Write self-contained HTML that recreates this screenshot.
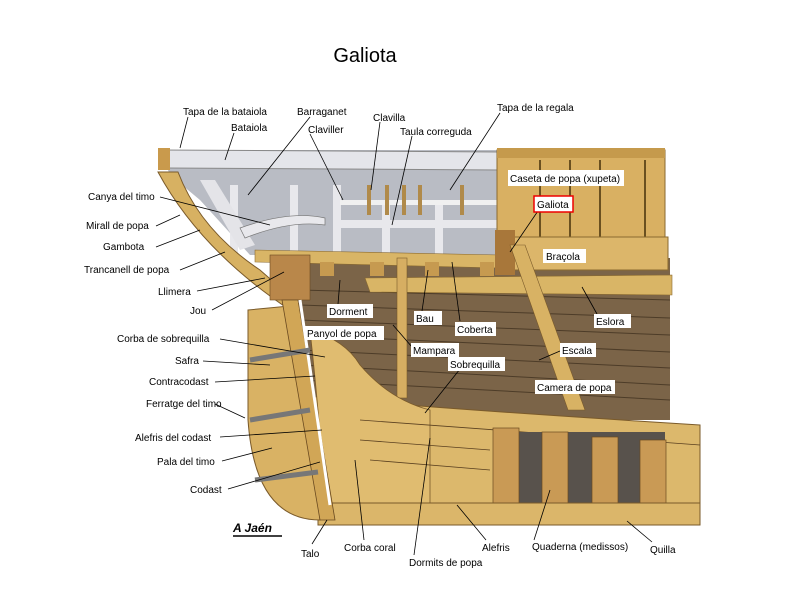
<!DOCTYPE html>
<html><head><meta charset="utf-8"><style>
html,body{margin:0;padding:0;background:#fff;width:800px;height:600px;overflow:hidden}
svg text{font-family:"Liberation Sans",Arial,sans-serif;font-size:10px;fill:#000}
</style></head><body>
<svg width="800" height="600" viewBox="0 0 800 600" xmlns="http://www.w3.org/2000/svg">
<rect width="800" height="600" fill="#fff"/>
<text x="365" y="62" text-anchor="middle" style="font-size:20px">Galiota</text>

<!-- grey bulwark -->
<polygon points="160,150 500,150 500,255 250,255 200,200 170,175" fill="#b9bcc4"/>
<polygon points="160,150 500,152 500,170 165,168" fill="#e4e5ea"/>
<line x1="160" y1="150" x2="500" y2="152" stroke="#888" stroke-width="1"/>
<line x1="165" y1="168" x2="500" y2="170" stroke="#888" stroke-width="1"/>
<rect x="230" y="185" width="8" height="70" fill="#e8e8ec"/>
<rect x="290" y="185" width="8" height="70" fill="#e8e8ec"/>
<rect x="333" y="185" width="8" height="70" fill="#e8e8ec"/>
<rect x="382" y="200" width="8" height="55" fill="#e8e8ec"/>
<rect x="435" y="200" width="8" height="55" fill="#e8e8ec"/>
<rect x="340" y="200" width="158" height="5" fill="#f0f0f0"/>
<rect x="340" y="220" width="158" height="8" fill="#e8e8ec"/>
<polygon points="200,180 215,180 255,245 240,250" fill="#e4e4e8"/>
<!-- pins -->
<g fill="#b08a4a"><rect x="367" y="185" width="4" height="30"/><rect x="385" y="185" width="4" height="30"/><rect x="402" y="185" width="4" height="30"/><rect x="418" y="185" width="4" height="30"/><rect x="460" y="185" width="4" height="30"/></g>
<!-- tiller -->
<path d="M240,228 Q290,210 325,218 L325,225 Q290,220 245,238 Z" fill="#e8e8ec" stroke="#777" stroke-width=".7"/>

<!-- stern curve wood -->
<path d="M158,172 L178,172 Q200,230 260,270 L300,305 L290,310 Q200,250 158,172 Z" fill="#d7b162" stroke="#7a5a2a" stroke-width="1"/>
<rect x="158" y="148" width="12" height="22" fill="#c99a4c"/>
<!-- hull interior brown -->
<polygon points="300,258 670,258 670,420 300,420" fill="#7b6448"/>
<g stroke="#4d3c28" stroke-width="1">
<line x1="300" y1="290" x2="670" y2="300"/><line x1="300" y1="305" x2="670" y2="318"/>
<line x1="300" y1="320" x2="670" y2="335"/><line x1="300" y1="335" x2="670" y2="352"/>
<line x1="300" y1="350" x2="670" y2="368"/><line x1="300" y1="365" x2="670" y2="385"/>
<line x1="300" y1="380" x2="670" y2="400"/>
</g>
<!-- deck beam -->
<polygon points="255,250 500,255 500,268 255,262" fill="#d9b566" stroke="#8a6a30" stroke-width=".6"/>
<polygon points="365,278 672,275 672,295 370,292" fill="#d9b566" stroke="#8a6a30" stroke-width=".6"/>
<rect x="397" y="258" width="10" height="140" fill="#d6ae62" stroke="#7a5a2a" stroke-width=".6"/>
<g fill="#c69a50"><rect x="320" y="262" width="14" height="14"/><rect x="370" y="262" width="14" height="14"/><rect x="425" y="262" width="14" height="14"/><rect x="480" y="262" width="14" height="14"/></g>
<rect x="270" y="255" width="40" height="45" fill="#b9874a" stroke="#6a4a20" stroke-width=".6"/>
<!-- caseta -->
<rect x="497" y="150" width="168" height="90" fill="#d9b062" stroke="#8a6a30"/>
<g stroke="#6a5020" stroke-width="2"><line x1="540" y1="160" x2="540" y2="240"/><line x1="570" y1="160" x2="570" y2="240"/><line x1="600" y1="160" x2="600" y2="240"/><line x1="645" y1="160" x2="645" y2="240"/></g>
<rect x="497" y="148" width="168" height="10" fill="#c59a4c"/>
<rect x="505" y="237" width="163" height="33" fill="#dcb66a" stroke="#8a6a30"/>
<rect x="495" y="230" width="20" height="45" fill="#a8773a"/>
<!-- escala -->
<polygon points="510,245 525,245 585,410 568,410" fill="#d8b264" stroke="#7a5a2a" stroke-width=".6"/>
<!-- lower hull -->
<path d="M300,395 Q380,405 700,425 L700,505 L320,510 Q330,470 300,395 Z" fill="#dcb86c" stroke="#7a5a2a"/>
<path d="M310,330 Q345,340 360,365 Q390,400 430,410 L430,505 L325,505 Q320,420 310,330Z" fill="#e0bc70" stroke="#7a5a2a" stroke-width=".8"/>
<g stroke="#5a4020" stroke-width=".8" fill="none">
<path d="M360,420 L700,445"/><path d="M360,440 L490,450"/><path d="M370,460 L490,470"/>
</g>
<rect x="493" y="432" width="172" height="73" fill="#58524c"/>
<g fill="#c99a55" stroke="#6a4a20" stroke-width=".7">
<rect x="493" y="428" width="26" height="78"/><rect x="542" y="432" width="26" height="74"/><rect x="592" y="437" width="26" height="69"/><rect x="640" y="440" width="26" height="66"/>
</g>
<rect x="318" y="503" width="382" height="22" fill="#dbb66a" stroke="#7a5a2a"/>
<!-- rudder and sternpost -->
<path d="M248,310 L300,305 L320,520 Q255,520 248,420 Z" fill="#d9b264" stroke="#7a5a2a"/>
<polygon points="282,300 298,300 335,520 320,520" fill="#d1a656" stroke="#6a4a20" stroke-width=".8"/>
<line x1="300" y1="300" x2="330" y2="505" stroke="#fff" stroke-width="3"/>
<g stroke="#777" stroke-width="5"><line x1="250" y1="360" x2="310" y2="350"/><line x1="250" y1="420" x2="310" y2="410"/><line x1="255" y1="480" x2="318" y2="472"/></g>
<text x="233" y="532" style="font-size:12px;font-weight:bold;font-style:italic">A Jaén</text>
<line x1="233" y1="536" x2="282" y2="536" stroke="#000" stroke-width="1.5"/>

<!-- leader lines -->
<g stroke="#000" stroke-width=".8">
<line x1="188" y1="117" x2="180" y2="148"/><line x1="234" y1="133" x2="225" y2="160"/>
<line x1="310" y1="117" x2="248" y2="195"/><line x1="310" y1="134" x2="343" y2="200"/>
<line x1="380" y1="122" x2="371" y2="190"/><line x1="412" y1="136" x2="392" y2="225"/>
<line x1="500" y1="113" x2="450" y2="190"/>
<line x1="160" y1="197" x2="270" y2="225"/><line x1="156" y1="226" x2="180" y2="215"/>
<line x1="156" y1="247" x2="200" y2="230"/><line x1="180" y1="270" x2="225" y2="252"/>
<line x1="197" y1="291" x2="265" y2="278"/><line x1="212" y1="310" x2="284" y2="272"/>
<line x1="220" y1="339" x2="325" y2="357"/><line x1="203" y1="361" x2="270" y2="365"/>
<line x1="215" y1="382" x2="315" y2="376"/><line x1="215" y1="404" x2="245" y2="418"/>
<line x1="220" y1="437" x2="322" y2="430"/><line x1="222" y1="461" x2="272" y2="448"/>
<line x1="228" y1="489" x2="320" y2="462"/>
<line x1="312" y1="544" x2="327" y2="520"/><line x1="364" y1="540" x2="355" y2="460"/>
<line x1="414" y1="555" x2="430" y2="438"/><line x1="486" y1="540" x2="457" y2="505"/>
<line x1="534" y1="540" x2="550" y2="490"/><line x1="652" y1="542" x2="627" y2="521"/>
<line x1="540" y1="208" x2="510" y2="252"/><line x1="338" y1="304" x2="340" y2="280"/>
<line x1="422" y1="311" x2="428" y2="270"/><line x1="460" y1="321" x2="452" y2="262"/>
<line x1="412" y1="347" x2="393" y2="325"/><line x1="460" y1="369" x2="425" y2="413"/>
<line x1="597" y1="314" x2="582" y2="287"/><line x1="560" y1="351" x2="539" y2="360"/>
</g>

<!-- outside labels -->
<g>
<text x="183" y="115">Tapa de la bataiola</text><text x="231" y="131">Bataiola</text>
<text x="297" y="115">Barraganet</text><text x="308" y="133">Claviller</text>
<text x="373" y="121">Clavilla</text><text x="400" y="135">Taula correguda</text>
<text x="497" y="111">Tapa de la regala</text>
<text x="88" y="200">Canya del timo</text><text x="86" y="229">Mirall de popa</text>
<text x="103" y="250">Gambota</text><text x="84" y="273">Trancanell de popa</text>
<text x="158" y="295">Llimera</text><text x="190" y="314">Jou</text>
<text x="117" y="342">Corba de sobrequilla</text><text x="175" y="364">Safra</text>
<text x="149" y="385">Contracodast</text><text x="146" y="407">Ferratge del timo</text>
<text x="135" y="441">Alefris del codast</text><text x="157" y="465">Pala del timo</text>
<text x="190" y="493">Codast</text>
<text x="301" y="557">Talo</text><text x="344" y="551">Corba coral</text>
<text x="409" y="566">Dormits de popa</text><text x="482" y="551">Alefris</text>
<text x="532" y="550">Quaderna (medissos)</text><text x="650" y="553">Quilla</text>
</g>
<!-- inside labels with white boxes -->
<g>
<rect x="508" y="170" width="116" height="16" fill="#fff"/><text x="510" y="182">Caseta de popa (xupeta)</text>
<rect x="534" y="196" width="39" height="16" fill="#fff" stroke="#e00" stroke-width="1.5"/><text x="537" y="208">Galiota</text>
<rect x="543" y="249" width="43" height="14" fill="#fff"/><text x="546" y="260">Braçola</text>
<rect x="327" y="304" width="46" height="14" fill="#fff"/><text x="329" y="315">Dorment</text>
<rect x="414" y="311" width="28" height="14" fill="#fff"/><text x="416" y="322">Bau</text>
<rect x="455" y="322" width="41" height="14" fill="#fff"/><text x="457" y="333">Coberta</text>
<rect x="305" y="326" width="79" height="14" fill="#fff"/><text x="307" y="337">Panyol de popa</text>
<rect x="411" y="343" width="48" height="14" fill="#fff"/><text x="413" y="354">Mampara</text>
<rect x="448" y="357" width="57" height="14" fill="#fff"/><text x="450" y="368">Sobrequilla</text>
<rect x="594" y="314" width="37" height="14" fill="#fff"/><text x="596" y="325">Eslora</text>
<rect x="560" y="343" width="36" height="14" fill="#fff"/><text x="562" y="354">Escala</text>
<rect x="535" y="380" width="80" height="14" fill="#fff"/><text x="537" y="391">Camera de popa</text>
</g>
</svg>
</body></html>
